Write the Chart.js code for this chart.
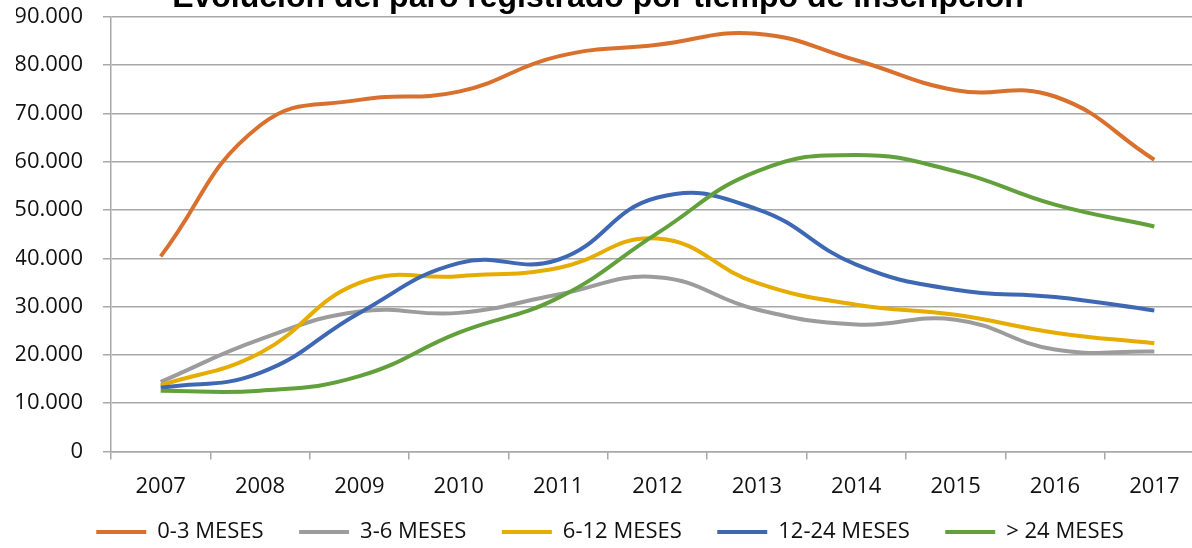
<!DOCTYPE html>
<html>
<head>
<meta charset="utf-8">
<script src="https://cdn.jsdelivr.net/npm/chart.js@4/dist/chart.umd.min.js"></script>
<style>
  html, body { margin: 0; padding: 0; background: #fff; overflow: hidden; width: 1192px; height: 548px; }
  #wrap { position: absolute; left: 0; top: -24px; width: 1210px; height: 581px; }
</style>
</head>
<body>
<div id="wrap"><canvas id="c"></canvas></div>
<script>
const titleText = 'Evolución del paro registrado por tiempo de inscripción';
const categories = ['2007', '2008', '2009', '2010', '2011', '2012', '2013', '2014', '2015', '2016', '2017'];
const seriesNames = ['0-3 MESES', '3-6 MESES', '6-12 MESES', '12-24 MESES', '> 24 MESES'];
const meses0a3   = [40400, 67500, 72800, 74500, 81800, 84200, 86500, 81000, 74800, 73500, 60400];
const meses3a6   = [14400, 23200, 29000, 28700, 32500, 36100, 29400, 26300, 27300, 21100, 20700];
const meses6a12  = [13700, 20400, 34900, 36300, 38000, 44100, 34900, 30400, 28300, 24600, 22400];
const meses12a24 = [13200, 16300, 28700, 39000, 39700, 52600, 50200, 38700, 33500, 32000, 29200];
const mesesMas24 = [12600, 12600, 15600, 24600, 31800, 45200, 58000, 61400, 58000, 51100, 46600];
const yTickValues = [0, 10000, 20000, 30000, 40000, 50000, 60000, 70000, 80000, 90000];
const yTickLabels = ['0', '10.000', '20.000', '30.000', '40.000', '50.000', '60.000', '70.000', '80.000', '90.000'];
const colors = ['#D9702E', '#9C9C9C', '#E6AC00', '#3E68B4', '#62A03C'];

const seriesData = [meses0a3, meses3a6, meses6a12, meses12a24, mesesMas24];
const datasets = seriesData.map((d, i) => ({
  label: seriesNames[i],
  data: d,
  borderColor: colors[i],
  backgroundColor: colors[i],
  borderWidth: 4,
  pointRadius: 0,
  pointHoverRadius: 0,
  tension: 0.45,
  fill: false,
  order: seriesData.length - 1 - i
}));

const gridColor = '#A8A8A8';
const labelFont = { family: "'Open Sans', sans-serif", size: 22, lineHeight: 1.2 };

// let x tick labels draw below the compact x-axis box without being clipped,
// and re-centre the title over the page
const layoutTweaks = {
  id: 'layoutTweaks',
  afterLayout(chart) {
    const s = chart.scales.x;
    s.bottom = s.top + 70;
    if (chart.titleBlock) {
      chart.titleBlock.left -= 24;
    }
  }
};

new Chart(document.getElementById('c'), {
  type: 'line',
  data: { labels: categories, datasets },
  plugins: [layoutTweaks],
  options: {
    responsive: true,
    maintainAspectRatio: false,
    animation: false,
    layout: { padding: { left: 16, right: 6, top: 0, bottom: 4 } },
    plugins: {
      title: {
        display: true,
        text: titleText,
        color: '#000',
        font: { family: "'Liberation Sans', Arial, sans-serif", size: 32, weight: 'bold', lineHeight: 1.15 },
        padding: { top: 4, bottom: 0 }
      },
      legend: {
        display: true,
        position: 'bottom',
        labels: {
          usePointStyle: true,
          pointStyle: 'line',
          pointStyleWidth: 50,
          boxWidth: 50,
          boxHeight: 20,
          color: '#111',
          font: labelFont,
          padding: 35.5,
          sort: (a, b) => a.datasetIndex - b.datasetIndex
        }
      },
      tooltip: { enabled: false }
    },
    scales: {
      x: {
        type: 'category',
        offset: true,
        grid: { display: true, drawOnChartArea: false, drawTicks: true, tickLength: 8, offset: true, color: gridColor, lineWidth: 1.5 },
        border: { display: true, color: gridColor, width: 1.5 },
        afterFit: (scale) => { scale.height = 34; },
        ticks: { color: '#111', font: labelFont, padding: 14, maxRotation: 0, autoSkip: false }
      },
      y: {
        min: 0,
        max: 90000,
        grid: { display: true, drawTicks: true, tickLength: 8, color: gridColor, lineWidth: 1.5 },
        border: { display: true, color: gridColor, width: 1.5 },
        afterFit: (scale) => { scale.width = 95; },
        afterBuildTicks: (scale) => { scale.ticks = yTickValues.map(v => ({ value: v })); },
        ticks: {
          color: '#111',
          font: labelFont,
          padding: 20,
          callback: (value) => {
            const k = yTickValues.indexOf(value);
            return k >= 0 ? yTickLabels[k] : '';
          }
        }
      }
    }
  }
});
</script>
</body>
</html>
